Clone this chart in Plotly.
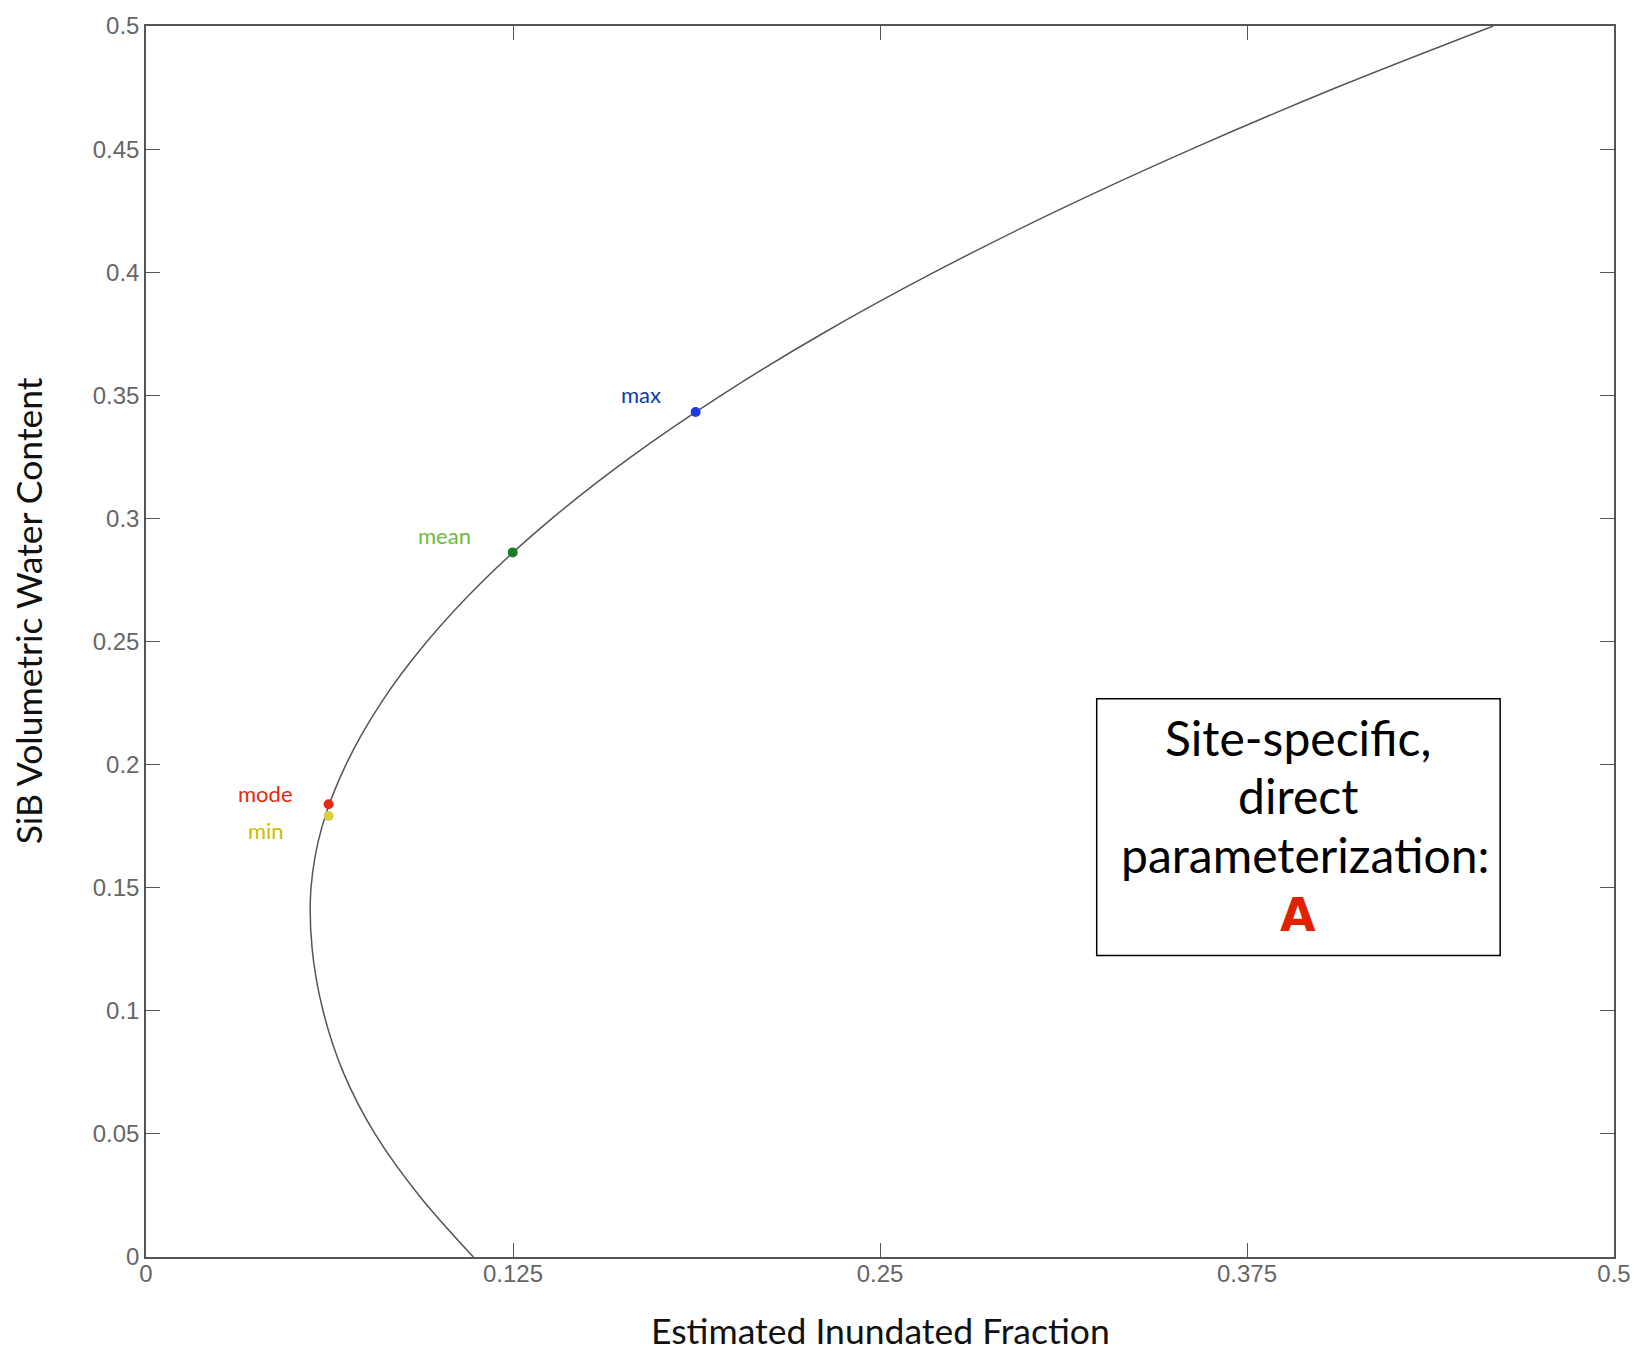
import plotly.graph_objects as go

# Curve (SiB volumetric water content vs inundated fraction)
curve_y = [0.0, 0.025, 0.05, 0.075, 0.1, 0.125, 0.15, 0.175, 0.2, 0.225, 0.25,
           0.275, 0.3, 0.325, 0.35, 0.375, 0.4, 0.425, 0.45, 0.475, 0.5]
curve_x = [0.1115, 0.0930, 0.0780, 0.0672, 0.0603, 0.0566, 0.0562, 0.0600, 0.0681, 0.0800,
           0.0957, 0.1151, 0.1383, 0.1652, 0.1959, 0.2303, 0.2685, 0.3104, 0.3561, 0.4055,
           0.4589]

# Highlighted points
point_names = ["mode", "min", "mean", "max"]
point_x = [0.0622, 0.0622, 0.1249, 0.1872]
point_y = [0.1839, 0.1791, 0.2862, 0.3432]
point_colors = ["#e02a1a", "#d8cf3a", "#1d7a24", "#1f3be0"]
label_colors = ["#e8260a", "#c8be00", "#6dbb3c", "#0a3bb0"]
label_shift = [(-63, 11), (-63, -14), (-68, 17), (-55, 18)]

y_ticks = [0, 0.05, 0.1, 0.15, 0.2, 0.25, 0.3, 0.35, 0.4, 0.45, 0.5]
y_tick_labels = ["0", "0.05", "0.1", "0.15", "0.2", "0.25", "0.3", "0.35", "0.4", "0.45", "0.5"]
x_ticks = [0, 0.125, 0.25, 0.375, 0.5]
x_tick_labels = ["0", "0.125", "0.25", "0.375", "0.5"]

box_lines = ["Site-specific,", "direct", "parameterization:"]

fig = go.Figure()
fig.add_trace(go.Scatter(x=curve_x, y=curve_y, mode="lines",
                         line=dict(color="#555555", width=1.5, shape="spline", smoothing=1.0),
                         hoverinfo="skip", showlegend=False))
fig.add_trace(go.Scatter(x=point_x, y=point_y, mode="markers",
                         marker=dict(color=point_colors, size=10, line=dict(width=0)),
                         showlegend=False))

annotations = []
for name, px, py, c, (dx, dy) in zip(point_names, point_x, point_y, label_colors, label_shift):
    annotations.append(dict(x=px, y=py, xref="x", yref="y", text=name, showarrow=False,
                            xshift=dx, yshift=dy, font=dict(family="Lato", size=22, color=c)))

# text box (pixel positions converted to paper coords)
L, T, W, H = 146, 20, 1470, 1237
def px2paper(px, py):
    return (px - L) / W, (T + H - py) / H

# axis titles
tx, ty = px2paper(881, 1331)
annotations.append(dict(x=tx, y=ty, xref="paper", yref="paper", xanchor="center", yanchor="middle",
                        text="Estimated Inundated Fraction", showarrow=False,
                        font=dict(family="Lato", size=35.5, color="#111111")))
tx, ty = px2paper(28, 608)
annotations.append(dict(x=tx, y=ty, xref="paper", yref="paper", xanchor="center", yanchor="middle",
                        textangle=-90, text="SiB Volumetric Water Content", showarrow=False,
                        font=dict(family="Lato", size=35.5, color="#111111")))

line_centers = [(1300, 735), (1300, 793), (1307, 853)]
for txt, (cx, cy) in zip(box_lines, line_centers):
    xx, yy = px2paper(cx, cy)
    annotations.append(dict(x=xx, y=yy, xref="paper", yref="paper", text=txt, showarrow=False,
                            xanchor="center", yanchor="middle",
                            font=dict(family="Lato", size=48, color="#000000")))
xx, yy = px2paper(1300, 913)
annotations.append(dict(x=xx, y=yy, xref="paper", yref="paper", text="<b>A</b>", showarrow=False,
                        xanchor="center", yanchor="middle",
                        font=dict(family="DejaVu Sans", size=46, color="#e02200")))

bx0, by1 = px2paper(1098, 954)
bx1, by0 = px2paper(1502, 696)

fig.update_layout(
    width=1643, height=1352,
    margin=dict(l=L, r=1643 - L - W, t=T, b=1352 - T - H, pad=0),
    plot_bgcolor="white", paper_bgcolor="white",
    annotations=annotations,
    shapes=[dict(type="rect", xref="paper", yref="paper", x0=bx0, x1=bx1, y0=by1, y1=by0,
                 line=dict(color="#000000", width=1.5), fillcolor="white", layer="below")],
    xaxis=dict(range=[0, 0.5], tickvals=x_ticks, ticktext=x_tick_labels, showgrid=False,
               zeroline=False, showline=True, linecolor="#555555", linewidth=1.5, mirror="ticks",
               ticks="inside", ticklen=14, tickcolor="#555555", tickwidth=1,
               ticklabelstandoff=-6,
               tickfont=dict(family="Liberation Sans", size=24, color="#666666")),
    yaxis=dict(range=[0, 0.5], tickvals=y_ticks, ticktext=y_tick_labels, showgrid=False,
               zeroline=False, showline=True, linecolor="#555555", linewidth=1.5, mirror="ticks",
               ticks="inside", ticklen=14, tickcolor="#555555", tickwidth=1,
               tickfont=dict(family="Liberation Sans", size=24, color="#666666")),
)

fig.write_html("out.html")
